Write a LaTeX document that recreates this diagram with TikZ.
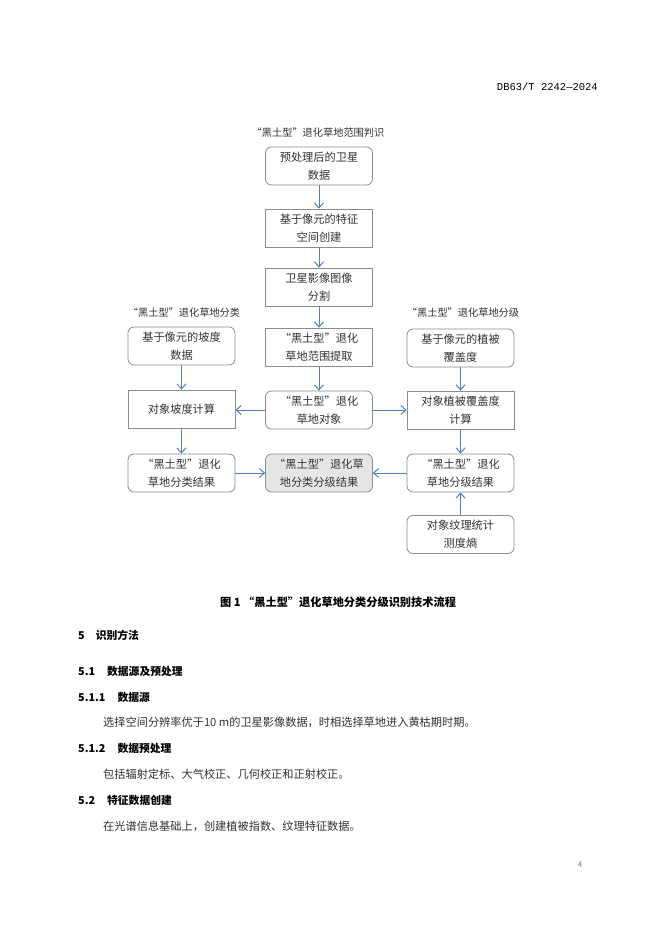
\documentclass[tikz,border=0pt]{standalone}
\usepackage{fontspec}
\setmainfont{Noto Sans CJK SC}
\newfontfamily\cjk{Noto Sans CJK SC}
\newfontfamily\monofnt{Liberation Mono}
\usetikzlibrary{arrows.meta}
\definecolor{bordergray}{HTML}{8C8C8C}
\definecolor{arrowblue}{HTML}{4F81BD}
\definecolor{fillgray}{HTML}{E6E6E6}
\definecolor{txtgray}{HTML}{333333}
\begin{document}
\begin{tikzpicture}[x=1pt,y=-1pt,
  box/.style={draw=bordergray,line width=0.8pt,minimum width=107pt,minimum height=38pt,
    text width=104pt,align=center,inner sep=0pt,text=txtgray,font=\cjk\fontsize{11.2}{18}\selectfont},
  rbox/.style={box,rounded corners=6pt},
  flowarrow/.style={draw=arrowblue,line width=1pt,-{Straight Barb[length=5pt,width=9pt,line width=1pt]}},
  grouplabel/.style={text=txtgray,font=\cjk\fontsize{10.2}{12}\selectfont,inner sep=0pt},
  heading/.style={anchor=west,inner sep=0pt,font=\cjk\bfseries\fontsize{10.8}{12}\selectfont},
  body/.style={anchor=west,inner sep=0pt,text=txtgray,font=\cjk\fontsize{11.2}{12}\selectfont}]
\useasboundingbox[fill=white] (0,0) rectangle (662,936);

% header
\node[anchor=east,inner sep=0pt,font=\monofnt\fontsize{10.5}{12}\selectfont] (hdr) at (598,87) {DB63/T 2242—2024};

% group labels
\node[grouplabel] (lblTop) at (318,133) {“黑土型”退化草地范围判识};
\node[grouplabel] (lblLeft) at (184,313) {“黑土型”退化草地分类};
\node[grouplabel] (lblRight) at (463,313) {“黑土型”退化草地分级};

% center column
\node[rbox] (b1) at (319,166) {预处理后的卫星\\数据};
\node[box]  (b2) at (319,228) {基于像元的特征\\空间创建};
\node[box]  (b3) at (319,287) {卫星影像图像\\分割};
\node[box]  (b4) at (319,347) {“黑土型”退化\\草地范围提取};
\node[rbox] (b5) at (319,410) {“黑土型”退化\\草地对象};
\node[rbox,fill=fillgray] (b6) at (319,473) {“黑土型”退化草\\地分类分级结果};

% left column
\node[rbox] (l1) at (181.5,346) {基于像元的坡度\\数据};
\node[box]  (l2) at (181.5,409) {对象坡度计算};
\node[rbox] (l3) at (181.5,473) {“黑土型”退化\\草地分类结果};

% right column
\node[rbox] (r1) at (460.5,348) {基于像元的植被\\覆盖度};
\node[box]  (r2) at (460.5,410) {对象植被覆盖度\\计算};
\node[rbox] (r3) at (460.5,473) {“黑土型”退化\\草地分级结果};
\node[rbox] (r4) at (460.5,534.5) {对象纹理统计\\测度熵};

% arrows
\draw[flowarrow] (b1) -- (b2);
\draw[flowarrow] (b2) -- (b3);
\draw[flowarrow] (b3) -- (b4);
\draw[flowarrow] (b4) -- (b5);
\draw[flowarrow] (b5.west) -- (l2.east |- b5.west);
\draw[flowarrow] (b5.east) -- (r2.west |- b5.east);
\draw[flowarrow] (l1) -- (l2);
\draw[flowarrow] (l2) -- (l3);
\draw[flowarrow] (l3) -- (b6);
\draw[flowarrow] (r1) -- (r2);
\draw[flowarrow] (r2) -- (r3);
\draw[flowarrow] (r3) -- (b6);
\draw[flowarrow] (r4) -- (r3);

% caption
\node[inner sep=0pt,font=\cjk\bfseries\fontsize{11.2}{12}\selectfont] (cap) at (338,602) {图 1 “黑土型”退化草地分类分级识别技术流程};

% text
\node[heading] (h5) at (78,635) {5\hspace{11pt}识别方法};
\node[heading] (h51) at (78,671) {5.1\hspace{12pt}数据源及预处理};
\node[heading] (h511) at (78,697) {5.1.1\hspace{12pt}数据源};
\node[body] (t1) at (103,722) {选择空间分辨率优于10 m的卫星影像数据，时相选择草地进入黄枯期时期。};
\node[heading] (h512) at (78,748) {5.1.2\hspace{12pt}数据预处理};
\node[body] (t2) at (103,774) {包括辐射定标、大气校正、几何校正和正射校正。};
\node[heading] (h52) at (78,800) {5.2\hspace{12pt}特征数据创建};
\node[body] (t3) at (103,826) {在光谱信息基础上，创建植被指数、纹理特征数据。};

% page number
\node[inner sep=0pt,text=gray,font=\fontsize{8}{10}\selectfont] (pg) at (580,865) {4};
\end{tikzpicture}
\end{document}
